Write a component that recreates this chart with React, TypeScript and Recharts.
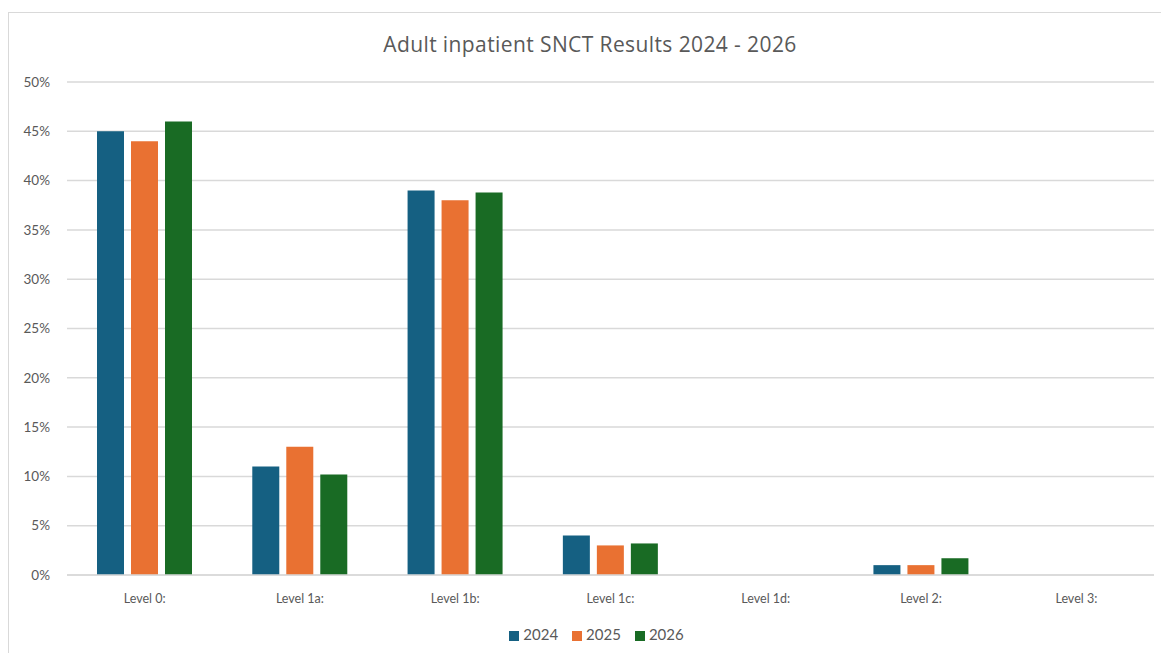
import React from 'react';
import { Bar, BarChart, CartesianGrid, Legend, XAxis, YAxis } from 'recharts';

const levels = ['Level 0:', 'Level 1a:', 'Level 1b:', 'Level 1c:', 'Level 1d:', 'Level 2:', 'Level 3:'];
const results2024 = [45, 11, 39, 4, 0, 1, 0];
const results2025 = [44, 13, 38, 3, 0, 1, 0];
const results2026 = [46, 10.2, 38.8, 3.2, 0, 1.7, 0];
const percentTicks = [0, 5, 10, 15, 20, 25, 30, 35, 40, 45, 50];

const data = levels.map((level, i) => ({
  level,
  y2024: results2024[i],
  y2025: results2025[i],
  y2026: results2026[i]
}));

const textColor = '#595959';
const gridColor = '#d9d9d9';
const font = 'Lato, "Open Sans", sans-serif';

const App: React.FC = () => {
  return (
    <div
      style={{
        position: 'relative',
        marginTop: 4,
        width: 1159,
        height: 650,
        border: `1px solid ${gridColor}`,
        boxSizing: 'border-box',
        fontFamily: font,
        background: '#fff'
      }}
    >
      <div
        style={{
          position: 'absolute',
          top: 18,
          left: 0,
          width: '100%',
          paddingLeft: 5,
          boxSizing: 'border-box',
          textAlign: 'center',
          fontFamily: '"Open Sans", sans-serif',
          fontSize: 21,
          letterSpacing: 0.4,
          lineHeight: '26px',
          color: textColor
        }}
      >
        Adult inpatient SNCT Results 2024 - 2026
      </div>
      <div style={{ position: 'absolute', top: 0, left: 0 }}>
        <BarChart
          width={1157}
          height={635}
          data={data}
          margin={{ top: 69, right: 12, bottom: 5, left: 0 }}
          barSize={27}
          barGap={7}
        >
          <CartesianGrid vertical={false} stroke={gridColor} strokeWidth={1.5} />
          <XAxis
            dataKey="level"
            height={50}
            tickLine={false}
            axisLine={{ stroke: gridColor, strokeWidth: 1.5 }}
            tickMargin={13}
            tick={{ fill: textColor, fontSize: 12.5, fontFamily: font }}
          />
          <YAxis
            width={58}
            domain={[0, 50]}
            ticks={percentTicks}
            tickFormatter={(v: number) => `${v}%`}
            tickLine={false}
            axisLine={false}
            tickMargin={11}
            tick={{ fill: textColor, fontSize: 13.5, fontFamily: font }}
          />
          <Legend
            verticalAlign="bottom"
            iconType="square"
            iconSize={10}
            wrapperStyle={{ fontSize: 15, fontFamily: font, color: textColor, paddingLeft: 22 }}
            formatter={(value: string) => (
              <span style={{ color: textColor, paddingRight: 4 }}>{value}</span>
            )}
          />
          <Bar dataKey="y2024" name="2024" fill="#156082" isAnimationActive={false} />
          <Bar dataKey="y2025" name="2025" fill="#e97132" isAnimationActive={false} />
          <Bar dataKey="y2026" name="2026" fill="#196b24" isAnimationActive={false} />
        </BarChart>
      </div>
    </div>
  );
};

export default App;
